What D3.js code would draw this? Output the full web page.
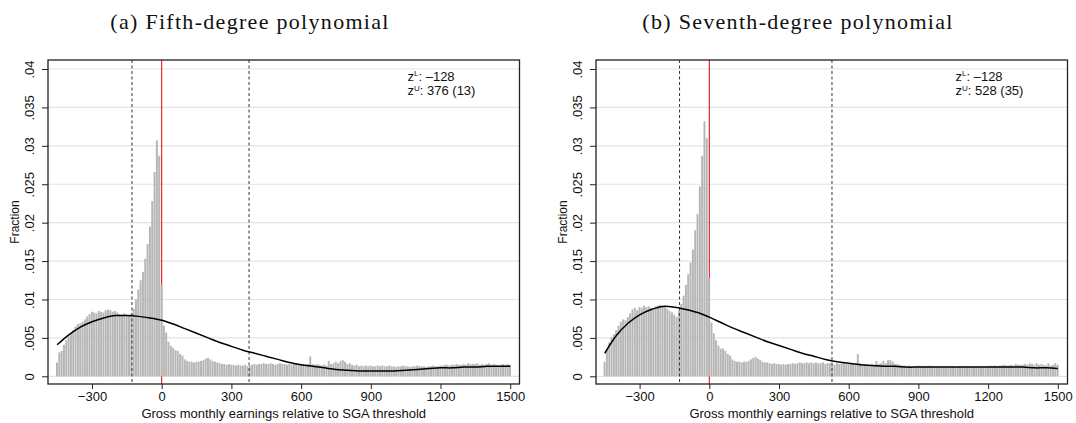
<!DOCTYPE html>
<html>
<head>
<meta charset="utf-8">
<script src="https://cdn.jsdelivr.net/npm/d3@7"></script>
<style>
  body { margin: 0; background: #fff; }
  svg text { font-family: "Liberation Sans", Arial, sans-serif; fill: #111; }
  .title { font-family: "Liberation Serif", "DejaVu Serif", serif; font-size: 22px; letter-spacing: 1.3px; }
</style>
</head>
<body>
<div id="chart"></div>
<script>
// bin centres run from -450 to 1500 in steps of 10
const binStart = -450, binWidth = 10;

const fracFifth = [
  .0018,.0031,.0033,.0041,.0047,.0052,.0056,.0060,.0065,.0068,
  .0069,.0071,.0074,.0078,.0081,.0084,.0083,.0082,.0085,.0084,
  .0083,.0086,.0087,.0086,.0084,.0085,.0083,.0081,.0080,.0082,
  .0080,.0079,.0082,.0088,.0100,.0113,.0125,.0136,.0153,.0172,
  .0195,.0228,.0266,.0307,.0287,.0119,.0066,.0057,.0045,.0040,
  .0037,.0034,.0033,.0029,.0027,.0022,.0020,.0019,.0019,.0018,
  .0019,.0019,.0020,.0021,.0023,.0024,.0022,.0020,.0019,.0018,
  .0017,.0016,.0016,.0015,.0016,.0015,.0015,.0014,.0015,.0014,
  .0014,.0015,.0013,.0014,.0015,.0016,.0015,.0016,.0016,.0017,
  .0016,.0016,.0017,.0016,.0015,.0016,.0017,.0016,.0016,.0015,
  .0016,.0015,.0016,.0017,.0016,.0015,.0016,.0015,.0016,.0026,
  .0016,.0015,.0016,.0015,.0014,.0015,.0014,.0020,.0016,.0017,
  .0019,.0017,.0020,.0021,.0019,.0016,.0017,.0015,.0014,.0015,
  .0013,.0014,.0013,.0014,.0013,.0014,.0013,.0013,.0014,.0013,
  .0014,.0013,.0013,.0014,.0013,.0013,.0012,.0013,.0013,.0014,
  .0013,.0013,.0012,.0013,.0013,.0014,.0013,.0013,.0013,.0012,
  .0013,.0013,.0014,.0013,.0013,.0014,.0014,.0015,.0015,.0014,
  .0015,.0015,.0016,.0015,.0015,.0016,.0015,.0017,.0016,.0016,
  .0016,.0017,.0015,.0016,.0015,.0016,.0017,.0015,.0016,.0015,
  .0014,.0015,.0016,.0015,.0016,.0015
];

const fracSeventh = [
  .0019,.0035,.0044,.0051,.0055,.0060,.0066,.0071,.0074,.0073,
  .0077,.0082,.0087,.0089,.0086,.0090,.0089,.0092,.0090,.0091,
  .0089,.0087,.0091,.0092,.0093,.0092,.0090,.0088,.0085,.0083,
  .0080,.0077,.0086,.0094,.0105,.0119,.0133,.0148,.0165,.0190,
  .0211,.0247,.0287,.0332,.0310,.0128,.0070,.0056,.0047,.0040,
  .0036,.0036,.0033,.0029,.0027,.0022,.0020,.0019,.0019,.0018,
  .0019,.0019,.0020,.0022,.0024,.0025,.0023,.0021,.0019,.0018,
  .0018,.0017,.0016,.0017,.0016,.0016,.0015,.0016,.0015,.0016,
  .0016,.0017,.0016,.0017,.0018,.0017,.0017,.0018,.0017,.0018,
  .0017,.0018,.0017,.0017,.0018,.0016,.0017,.0017,.0016,.0015,
  .0017,.0016,.0017,.0018,.0016,.0016,.0017,.0016,.0016,.0029,
  .0017,.0016,.0016,.0015,.0015,.0016,.0014,.0020,.0016,.0017,
  .0020,.0017,.0021,.0021,.0019,.0016,.0016,.0015,.0014,.0014,
  .0013,.0014,.0013,.0013,.0013,.0014,.0013,.0013,.0013,.0013,
  .0014,.0013,.0013,.0013,.0013,.0013,.0012,.0013,.0013,.0013,
  .0013,.0012,.0012,.0013,.0013,.0013,.0012,.0013,.0012,.0012,
  .0013,.0012,.0013,.0013,.0013,.0013,.0014,.0013,.0014,.0013,
  .0014,.0014,.0015,.0014,.0014,.0015,.0014,.0016,.0015,.0015,
  .0015,.0016,.0015,.0017,.0016,.0015,.0017,.0015,.0016,.0015,
  .0014,.0017,.0014,.0015,.0017,.0015
];

// fitted polynomial counterfactual, read every 50 units from -450 to 1500
const fitX = [-450,-400,-350,-300,-250,-200,-150,-100,-50,0,50,100,150,200,250,300,350,400,450,500,
  550,600,650,700,750,800,850,900,950,1000,1050,1100,1150,1200,1250,1300,1350,1400,1450,1500];
const fitFifth = [.0041,.0054,.0064,.0071,.0076,.0079,.0079,.0078,.0076,.0073,.0068,.0062,.0056,.0050,.0044,.0039,.0034,.0030,.0026,.0022,
  .0018,.0015,.0013,.0011,.0009,.0008,.0007,.0007,.0007,.0007,.0008,.0009,.0010,.0011,.0011,.0012,.0012,.0013,.0013,.0013];
const fitSeventh = [.0030,.0053,.0069,.0080,.0087,.0091,.0090,.0087,.0083,.0077,.0070,.0063,.0057,.0051,.0045,.0040,.0035,.0030,.0026,.0022,
  .0019,.0017,.0015,.0014,.0013,.0013,.0012,.0012,.0012,.0012,.0012,.0012,.0012,.0012,.0012,.0012,.0012,.0011,.0011,.0010];

const yTicks = [0, .005, .01, .015, .02, .025, .03, .035, .04];
const yTickLabels = ["0", ".005", ".01", ".015", ".02", ".025", ".03", ".035", ".04"];
const xTicks = [-300, 0, 300, 600, 900, 1200, 1500];

const panels = [
  { title: "(a) Fifth-degree polynomial", frac: fracFifth, fit: fitFifth, zL: -128, zU: 376, zUtxt: "376 (13)", left: 48, xZero: 161.7 },
  { title: "(b) Seventh-degree polynomial", frac: fracSeventh, fit: fitSeventh, zL: -128, zU: 528, zUtxt: "528 (35)", left: 596, xZero: 709.3 }
];

const W = 1076, H = 423;
const svg = d3.select("#chart").append("svg")
  .attr("width", W).attr("height", H);

const boxTop = 60, boxBottom = 384, boxW = 471.5;

panels.forEach(function (p) {
  const g = svg.append("g");

  const x = d3.scaleLinear().domain([-300, 1500]).range([p.xZero - 69.7, p.xZero + 348.5]);
  const y = d3.scaleLinear().domain([0, .04]).range([376.3, 69]);

  // title
  g.append("text").attr("class", "title")
    .attr("x", p.left + 202).attr("y", 29)
    .attr("text-anchor", "middle")
    .text(p.title);

  // grid lines
  g.selectAll(".grid").data(yTicks).join("line")
    .attr("x1", p.left).attr("x2", p.left + boxW)
    .attr("y1", d => y(d)).attr("y2", d => y(d))
    .attr("stroke", "#e3e3e3").attr("stroke-width", 1.2);

  // threshold (behind bars)
  g.append("line")
    .attr("x1", x(0)).attr("x2", x(0))
    .attr("y1", boxTop).attr("y2", boxBottom)
    .attr("stroke", "#e00000").attr("stroke-width", 1);

  // bars
  const bins = p.frac.map((v, i) => ({ c: binStart + i * binWidth, v: v }));
  const bw = x(binWidth) - x(0);
  g.selectAll(".bar").data(bins).join("rect")
    .attr("x", d => x(d.c - binWidth / 2))
    .attr("width", bw - 0.35)
    .attr("y", d => y(d.v))
    .attr("height", d => y(0) - y(d.v))
    .attr("fill", "#b6b6b6");

  // excluded-region bounds
  [p.zL, p.zU].forEach(function (z) {
    g.append("line")
      .attr("x1", x(z)).attr("x2", x(z))
      .attr("y1", boxTop).attr("y2", boxBottom)
      .attr("stroke", "#333").attr("stroke-width", 1)
      .attr("stroke-dasharray", "3,2.5");
  });

  // fitted curve
  const line = d3.line()
    .x((d, i) => x(fitX[i]))
    .y(d => y(d))
    .curve(d3.curveCatmullRom);
  g.append("path")
    .attr("d", line(p.fit))
    .attr("fill", "none")
    .attr("stroke", "#000").attr("stroke-width", 1.5);

  // frame
  g.append("rect")
    .attr("x", p.left).attr("y", boxTop)
    .attr("width", boxW).attr("height", boxBottom - boxTop)
    .attr("fill", "none").attr("stroke", "#222").attr("stroke-width", 1.3);

  // y axis
  const yAxis = g.append("g").attr("transform", "translate(" + p.left + ",0)")
    .call(d3.axisLeft(y).tickValues(yTicks).tickSize(6).tickFormat((d, i) => yTickLabels[i]));
  yAxis.select(".domain").remove();
  yAxis.selectAll(".tick line").attr("stroke", "#222");
  yAxis.selectAll(".tick text")
    .attr("font-family", "Liberation Sans, Arial, sans-serif")
    .attr("font-size", 13)
    .attr("x", 0).attr("dy", 0)
    .attr("transform", "translate(-14,0) rotate(-90)")
    .attr("text-anchor", "middle")
    .attr("fill", "#111");

  g.append("text")
    .attr("transform", "translate(" + (p.left - 29) + "," + ((boxTop + boxBottom) / 2) + ") rotate(-90)")
    .attr("text-anchor", "middle")
    .attr("font-size", 12)
    .text("Fraction");

  // x axis
  const xAxis = g.append("g").attr("transform", "translate(0," + boxBottom + ")")
    .call(d3.axisBottom(x).tickValues(xTicks).tickSize(5).tickFormat(d => d < 0 ? "\u2212" + Math.abs(d) : d));
  xAxis.select(".domain").remove();
  xAxis.selectAll(".tick line").attr("stroke", "#222");
  xAxis.selectAll(".tick text")
    .attr("font-family", "Liberation Sans, Arial, sans-serif")
    .attr("font-size", 13)
    .attr("y", 8)
    .attr("fill", "#111");

  g.append("text")
    .attr("x", p.left + boxW / 2).attr("y", 418)
    .attr("text-anchor", "middle")
    .attr("font-size", 13)
    .text("Gross monthly earnings relative to SGA threshold");

  // bunching bounds note
  const tx = p.left + boxW - 112;
  const t1 = g.append("text").attr("x", tx).attr("y", 81).attr("font-size", 13);
  t1.append("tspan").text("z");
  t1.append("tspan").attr("font-size", 8).attr("dy", -5).text("L");
  t1.append("tspan").attr("dy", 5).text(": \u2013" + Math.abs(p.zL));
  const t2 = g.append("text").attr("x", tx).attr("y", 95).attr("font-size", 13);
  t2.append("tspan").text("z");
  t2.append("tspan").attr("font-size", 8).attr("dy", -4).text("U");
  t2.append("tspan").attr("dy", 4).text(": " + p.zUtxt);
});
</script>
</body>
</html>
